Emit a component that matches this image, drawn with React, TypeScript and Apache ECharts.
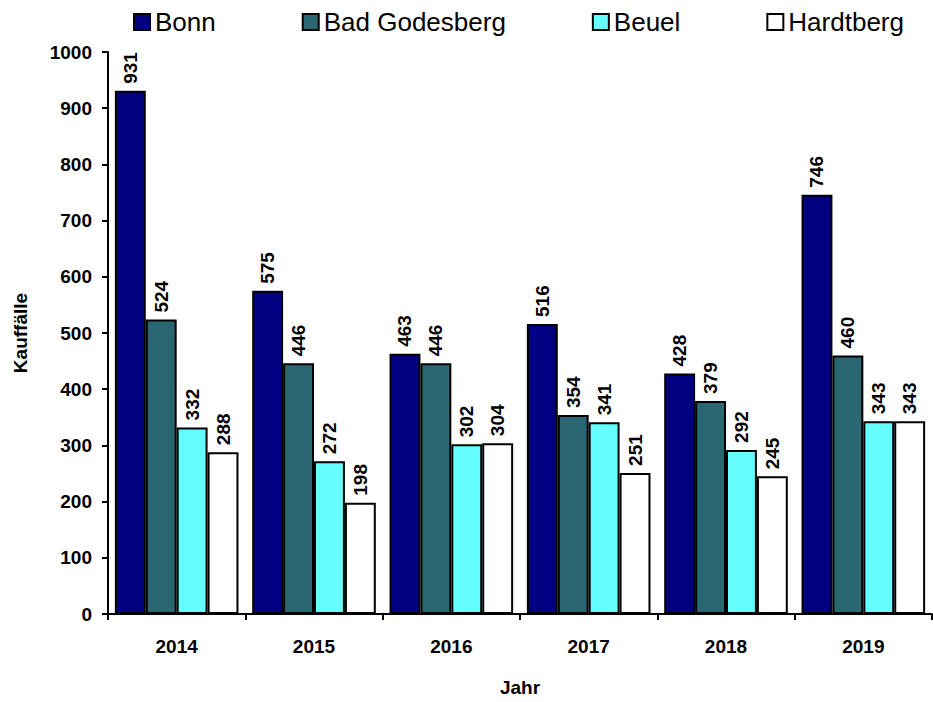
import React, { useEffect, useRef } from "react";
import * as echarts from "echarts";

const years = ["2014", "2015", "2016", "2017", "2018", "2019"];
const bonn = [931, 575, 463, 516, 428, 746];
const badGodesberg = [524, 446, 446, 354, 379, 460];
const beuel = [332, 272, 302, 341, 292, 343];
const hardtberg = [288, 198, 304, 251, 245, 343];
const seriesNames = ["Bonn", "Bad Godesberg", "Beuel", "Hardtberg"];
const colors = ["#000080", "#2B6673", "#66FFFF", "#FFFFFF"];

const FONT = "'Liberation Sans', Arial, sans-serif";

export default function App() {
  const ref = useRef<HTMLDivElement>(null);
  useEffect(() => {
    if (!ref.current) return;
    const chart = echarts.init(ref.current, null, { renderer: "svg" });
    const dataSets = [bonn, badGodesberg, beuel, hardtberg];
    chart.setOption({
      animation: false,
      textStyle: { fontFamily: FONT },
      legend: {
        top: 4,
        left: 128,
        itemGap: 86,
        itemWidth: 16,
        itemHeight: 16,
        icon: "rect",
        textStyle: { fontSize: 26, color: "#000", fontFamily: FONT },
        data: seriesNames,
      },
      grid: { left: 108, right: 1, top: 52, bottom: 85 },
      xAxis: {
        type: "category",
        data: years,
        name: "Jahr",
        nameLocation: "middle",
        nameGap: 64,
        nameTextStyle: { fontWeight: "bold", fontSize: 19, color: "#000", fontFamily: FONT },
        axisLine: { lineStyle: { color: "#000", width: 2 } },
        axisTick: { show: true, length: 6, lineStyle: { color: "#000", width: 2 } },
        axisLabel: { fontWeight: "bold", fontSize: 19, color: "#000", margin: 23, fontFamily: FONT },
      },
      yAxis: {
        type: "value",
        min: 0,
        max: 1000,
        interval: 100,
        name: "Kauffälle",
        nameLocation: "middle",
        nameGap: 78,
        nameTextStyle: { fontWeight: "bold", fontSize: 19, color: "#000", fontFamily: FONT },
        axisLine: { show: true, lineStyle: { color: "#000", width: 2 } },
        axisTick: { show: true, length: 6, lineStyle: { color: "#000", width: 2 } },
        axisLabel: {
          fontWeight: "bold",
          fontSize: 19,
          color: "#000",
          margin: 16,
          fontFamily: FONT,
          formatter: (v: number) => String(v),
        },
        splitLine: { show: false },
      },
      series: seriesNames.map((name, i) => ({
        name,
        type: "bar",
        data: dataSets[i],
        barGap: "0%",
        barCategoryGap: "10%",
        itemStyle: { color: colors[i], borderColor: "#000", borderWidth: 2 },
        label: {
          show: true,
          position: "top",
          rotate: 90,
          align: "left",
          verticalAlign: "middle",
          distance: 7,
          fontWeight: "bold",
          fontSize: 19,
          color: "#000",
          fontFamily: FONT,
        },
      })),
    });
    return () => chart.dispose();
  }, []);
  return <div ref={ref} style={{ width: 933, height: 702, position: "absolute", left: 0, top: 0 }} />;
}
